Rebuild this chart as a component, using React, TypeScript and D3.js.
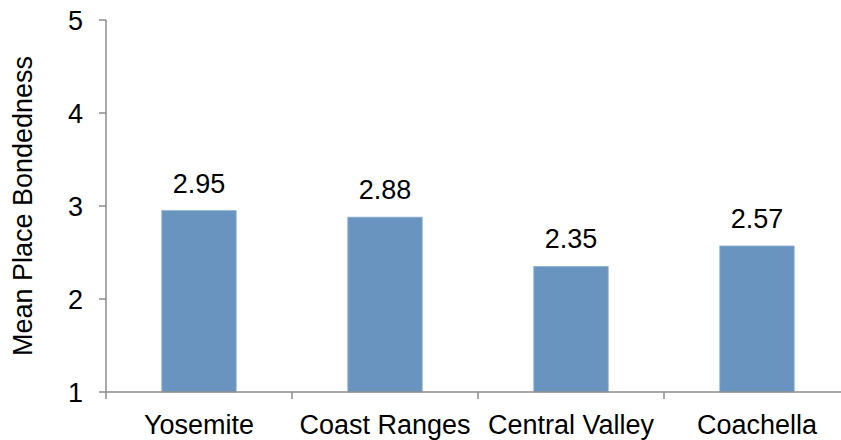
import React, { useEffect, useRef } from "react";
import * as d3 from "d3";

const categories = ["Yosemite", "Coast Ranges", "Central Valley", "Coachella"];
const values = [2.95, 2.88, 2.35, 2.57];
const yTicks = [1, 2, 3, 4, 5];

const App = () => {
  const svgRef = useRef<SVGSVGElement | null>(null);

  useEffect(() => {
    const svg = d3.select(svgRef.current);
    svg.selectAll("*").remove();

    const width = 841;
    const left = 106;
    const top = 20;
    const bottom = 392;
    const font = "Liberation Sans, Arial, sans-serif";
    const fs = 27;
    const axisColor = "#8c8c8c";

    const x = d3
      .scaleBand()
      .domain(categories)
      .range([left, left + 186 * categories.length])
      .paddingInner(0)
      .paddingOuter(0);

    const y = d3.scaleLinear().domain([1, 5]).range([bottom, top]);

    const barW = x.bandwidth() * 0.4;

    // bars
    svg
      .selectAll(".bar")
      .data(values)
      .join("rect")
      .attr("class", "bar")
      .attr("x", (d, i) => x(categories[i])! + (x.bandwidth() - barW) / 2)
      .attr("y", (d) => y(d))
      .attr("width", barW)
      .attr("height", (d) => y(1) - y(d))
      .attr("fill", "#6894bf")
      .attr("stroke", "#8fb0d4")
      .attr("stroke-width", 0.8);

    // value labels
    svg
      .selectAll(".val")
      .data(values)
      .join("text")
      .attr("class", "val")
      .attr("x", (d, i) => x(categories[i])! + x.bandwidth() / 2)
      .attr("y", (d) => y(d) - 18)
      .attr("text-anchor", "middle")
      .attr("font-family", font)
      .attr("font-size", fs)
      .attr("fill", "#000")
      .text((d) => d.toFixed(2));

    // y axis
    svg
      .append("line")
      .attr("x1", left)
      .attr("x2", left)
      .attr("y1", top)
      .attr("y2", bottom)
      .attr("stroke", axisColor)
      .attr("stroke-width", 1.5);

    svg
      .selectAll(".ytick")
      .data(yTicks)
      .join("line")
      .attr("class", "ytick")
      .attr("x1", left - 7)
      .attr("x2", left)
      .attr("y1", (d) => y(d))
      .attr("y2", (d) => y(d))
      .attr("stroke", axisColor)
      .attr("stroke-width", 1.5);

    svg
      .selectAll(".ylab")
      .data(yTicks)
      .join("text")
      .attr("class", "ylab")
      .attr("x", left - 23)
      .attr("y", (d) => y(d))
      .attr("dy", "0.36em")
      .attr("text-anchor", "end")
      .attr("font-family", font)
      .attr("font-size", fs)
      .attr("fill", "#000")
      .text((d) => d);

    // x axis
    svg
      .append("line")
      .attr("x1", left)
      .attr("x2", width)
      .attr("y1", bottom)
      .attr("y2", bottom)
      .attr("stroke", axisColor)
      .attr("stroke-width", 1.5);

    const bounds = categories.map((c) => x(c)!);
    svg
      .selectAll(".xtick")
      .data(bounds)
      .join("line")
      .attr("class", "xtick")
      .attr("x1", (d) => d)
      .attr("x2", (d) => d)
      .attr("y1", bottom)
      .attr("y2", bottom + 7)
      .attr("stroke", axisColor)
      .attr("stroke-width", 1.5);

    svg
      .selectAll(".xlab")
      .data(categories)
      .join("text")
      .attr("class", "xlab")
      .attr("x", (d) => x(d)! + x.bandwidth() / 2)
      .attr("y", 434)
      .attr("text-anchor", "middle")
      .attr("font-family", font)
      .attr("font-size", fs)
      .attr("fill", "#000")
      .text((d) => d);

    // y axis title
    svg
      .append("text")
      .attr("transform", `translate(32, ${(top + bottom) / 2}) rotate(-90)`)
      .attr("text-anchor", "middle")
      .attr("font-family", font)
      .attr("font-size", fs)
      .attr("fill", "#000")
      .text("Mean Place Bondedness");
  }, []);

  return (
    <svg
      ref={svgRef}
      width={841}
      height={440}
      style={{ position: "absolute", left: 0, top: 0, background: "#fff" }}
    />
  );
};

export default App;
